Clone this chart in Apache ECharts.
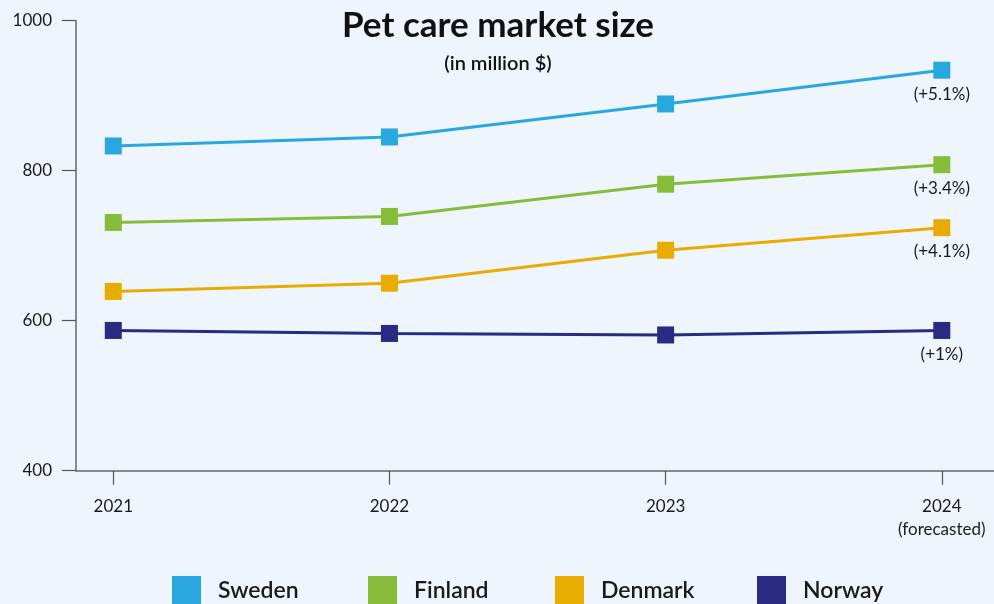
<!DOCTYPE html>
<html>
<head>
<meta charset="utf-8">
<title>Pet care market size</title>
<script src="https://cdn.jsdelivr.net/npm/echarts@6/dist/echarts.min.js"></script>
<style>
  html, body { margin: 0; padding: 0; background: #eef5fc; }
  #chart { width: 994px; height: 604px; }
</style>
</head>
<body>
<div id="chart"></div>
<script>
// Years on the horizontal axis and their printed labels
const years = [2021, 2022, 2023, 2024];
const yearLabels = ['2021', '2022', '2023', '2024\n(forecasted)'];

// Market size per country, million $
const sweden  = [833, 845, 889, 934];
const finland = [731, 739, 782, 808];
const denmark = [639, 650, 694, 724];
const norway  = [587, 583, 581, 587];

// Growth printed under the forecast point
const growth = ['+5.1%', '+3.4%', '+4.1%', '+1%'];

const countries = ['Sweden', 'Finland', 'Denmark', 'Norway'];
const colors = ['#29a8df', '#86bc3a', '#e8ac00', '#292a82'];
const values = [sweden, finland, denmark, norway];
const legendLeft = [172, 368, 555, 757];

const font = 'Lato, "Open Sans", sans-serif';

const series = countries.map((name, i) => ({
  name: name,
  type: 'line',
  data: years.map((y, j) => [y, values[i][j]]),
  symbol: 'rect',
  symbolSize: 17,
  lineStyle: { width: 3, color: colors[i] },
  itemStyle: { color: colors[i] },
  emphasis: { disabled: true },
  label: {
    show: true,
    position: 'bottom',
    distance: 7,
    fontFamily: font,
    fontSize: 17,
    color: '#1a1a1a',
    formatter: p => p.dataIndex === years.length - 1 ? '(' + growth[i] + ')' : ''
  },
  z: 10 - i
}));

const legends = countries.map((name, i) => ({
  data: [name],
  left: legendLeft[i],
  top: 576,
  padding: 0,
  icon: 'rect',
  itemWidth: 29,
  itemHeight: 30,
  selectedMode: false,
  textStyle: {
    fontFamily: font,
    fontSize: 23,
    fontWeight: 600,
    color: '#1a1a1a',
    padding: [0, 0, 0, 12]
  }
}));

const chart = echarts.init(document.getElementById('chart'), null, { renderer: 'canvas' });
chart.setOption({
  backgroundColor: '#eef5fc',
  animation: false,
  title: {
    text: 'Pet care market size',
    subtext: '(in million $)',
    left: 493,
    textAlign: 'center',
    top: 3,
    itemGap: 11,
    textStyle: { fontFamily: font, fontSize: 35, fontWeight: 'bold', color: '#111' },
    subtextStyle: { fontFamily: font, fontSize: 20, fontWeight: 600, color: '#111' }
  },
  legend: legends,
  grid: {
    left: 76, right: 0, top: 20.7, bottom: 133.3,
    outerBoundsMode: 'none'
  },
  xAxis: {
    type: 'value',
    min: 2020.865,
    max: 2024.189,
    axisLine: { onZero: false, lineStyle: { color: '#666', width: 1.5 } },
    axisTick: { customValues: years, length: 14, lineStyle: { color: '#555', width: 1.2 } },
    splitLine: { show: false },
    axisLabel: {
      customValues: years,
      margin: 24,
      fontFamily: font,
      fontSize: 17,
      lineHeight: 23,
      color: '#1a1a1a',
      formatter: v => yearLabels[years.indexOf(Math.round(v))] || ''
    }
  },
  yAxis: {
    type: 'value',
    min: 400,
    max: 1000,
    interval: 200,
    axisLine: { show: true, onZero: false, lineStyle: { color: '#666', width: 1.5 } },
    axisTick: { show: true, length: 14, lineStyle: { color: '#555', width: 1.2 } },
    splitLine: { show: false },
    axisLabel: { margin: 24, fontFamily: font, fontSize: 17, color: '#1a1a1a', formatter: v => String(v) }
  },
  series: series
});
</script>
</body>
</html>
